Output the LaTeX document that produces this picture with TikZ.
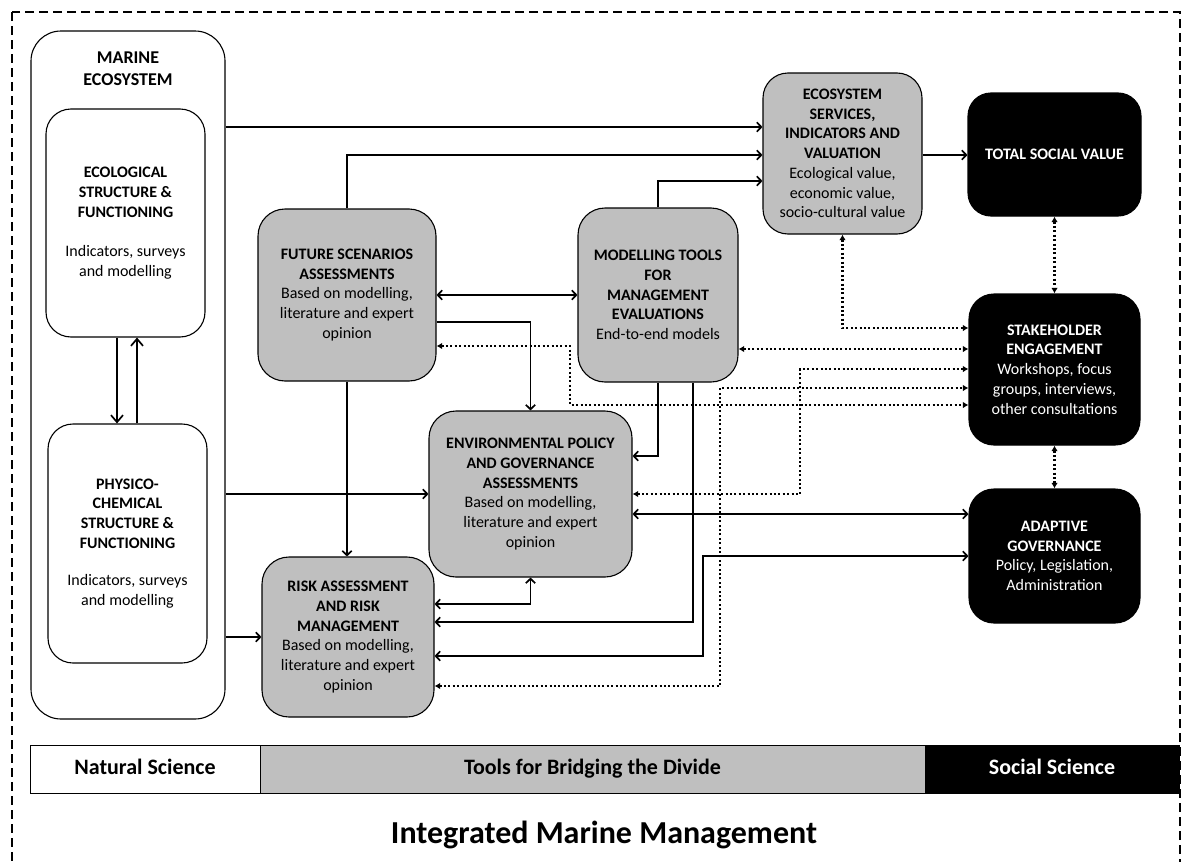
\documentclass[tikz,border=0pt]{standalone}
\usepackage{fontspec}
\setmainfont{Carlito}
\usetikzlibrary{arrows.meta,calc}
\definecolor{boxgray}{RGB}{191,191,191}
\begin{document}
\begin{tikzpicture}[x=1pt,y=-1pt,
  basebox/.style={draw=black, line width=1.1pt, rounded corners=27pt, align=center, inner sep=0pt, font=\fontsize{16}{19.7}\selectfont},
  whitebox/.style={basebox, fill=white},
  graybox/.style={basebox, fill=boxgray},
  blackbox/.style={basebox, fill=black, text=white},
  solidarrow/.style={line width=1.7pt, -{Straight Barb[length=4.5pt,width=9.5pt]}},
  solidboth/.style={line width=1.7pt, {Straight Barb[length=4.5pt,width=9.5pt]}-{Straight Barb[length=4.5pt,width=9.5pt]}},
  bigarrow/.style={line width=1.7pt, -{Straight Barb[length=7pt,width=12pt]}},
  dotboth/.style={line width=2.1pt, dash pattern=on 2pt off 2.4pt, {Latex[length=5.5pt,width=6.5pt]}-{Latex[length=5.5pt,width=6.5pt]}},
  barcell/.style={draw=black, line width=1pt, inner sep=0pt, minimum height=48pt, text height=15pt, text depth=5pt, font=\fontsize{22}{26}\selectfont\bfseries}
]
\useasboundingbox (0,0) rectangle (1192,862);
\draw[line width=1.1pt, dash pattern=on 9pt off 5pt] (12,12) rectangle (1180,885);

% natural science side
\node[whitebox, rounded corners=30pt, minimum width=194pt, minimum height=688pt] (marine) at (128,375) {};
\node[font=\fontsize{18}{22}\selectfont\bfseries, align=center] (marinelbl) at (128,69) {MARINE\\ECOSYSTEM};
\node[whitebox, rounded corners=25pt, minimum width=159pt, minimum height=228pt] (eco) at (125.5,223)
  {\textbf{ECOLOGICAL}\\\textbf{STRUCTURE \&}\\\textbf{FUNCTIONING}\\[19.7pt]Indicators, surveys\\and modelling};
\node[whitebox, rounded corners=25pt, minimum width=159pt, minimum height=239pt] (phys) at (127.5,543.5)
  {\textbf{PHYSICO-}\\\textbf{CHEMICAL}\\\textbf{STRUCTURE \&}\\\textbf{FUNCTIONING}\\[18pt]Indicators, surveys\\and modelling};

% bridging tools
\node[graybox, minimum width=178pt, minimum height=172pt] (fut) at (347,295)
  {\textbf{FUTURE SCENARIOS}\\\textbf{ASSESSMENTS}\\Based on modelling,\\literature and expert\\opinion};
\node[graybox, minimum width=160pt, minimum height=174pt] (mod) at (658,295)
  {\textbf{MODELLING TOOLS}\\\textbf{FOR}\\\textbf{MANAGEMENT}\\\textbf{EVALUATIONS}\\End-to-end models};
\node[graybox, rounded corners=25pt, minimum width=159pt, minimum height=161pt] (es) at (842.5,153.5)
  {\textbf{ECOSYSTEM}\\\textbf{SERVICES,}\\\textbf{INDICATORS AND}\\\textbf{VALUATION}\\Ecological value,\\economic value,\\socio-cultural value};
\node[graybox, minimum width=203pt, minimum height=166pt] (env) at (530.5,494)
  {\textbf{ENVIRONMENTAL POLICY}\\\textbf{AND GOVERNANCE}\\\textbf{ASSESSMENTS}\\Based on modelling,\\literature and expert\\opinion};
\node[graybox, minimum width=172pt, minimum height=160pt] (risk) at (348,637)
  {\textbf{RISK ASSESSMENT}\\\textbf{AND RISK}\\\textbf{MANAGEMENT}\\Based on modelling,\\literature and expert\\opinion};

% social science side
\node[blackbox, rounded corners=23pt, minimum width=173pt, minimum height=123pt] (tsv) at (1054.5,154.5)
  {\textbf{TOTAL SOCIAL VALUE}};
\node[blackbox, rounded corners=25pt, minimum width=171pt, minimum height=151pt] (sh) at (1054.5,369.5)
  {\textbf{STAKEHOLDER}\\\textbf{ENGAGEMENT}\\Workshops, focus\\groups, interviews,\\other consultations};
\node[blackbox, rounded corners=25pt, minimum width=171pt, minimum height=134pt] (ad) at (1054.5,556)
  {\textbf{ADAPTIVE}\\\textbf{GOVERNANCE}\\Policy, Legislation,\\Administration};

% solid connectors
\draw[solidarrow] (marine.east |- 0,127) -- (es.west |- 0,127);
\draw[solidarrow] (fut.north) |- (es.west |- 0,155);
\draw[solidarrow] (mod.north) |- (es.west |- 0,181);
\draw[solidarrow] (es.east |- 0,155) -- (tsv.west |- 0,155);
\draw[solidboth] (fut.east) -- (mod.west);
\draw[solidarrow] (fut.east |- 0,322) -| (env.north);
\draw[solidarrow] (fut.south) -- (fut.south |- risk.north);
\draw[solidarrow] (mod.south) |- (env.east |- 0,456);
\draw[solidarrow] (mod.south -| 693,0) |- (risk.east |- 0,622);
\draw[solidarrow] (marine.east |- env.west) -- (env.west);
\draw[solidarrow] (marine.east |- risk.west) -- (risk.west);
\draw[solidboth] (env.east |- 0,514) -- (ad.west |- 0,514);
\draw[solidboth] (risk.east |- 0,604) -| (env.south);
\coordinate (bendad) at (703,556);
\draw[solidboth] (risk.east |- 0,656) -| (bendad) -- (ad.west);
\draw[bigarrow] (eco.south -| 117,0) -- (phys.north -| 117,0);
\draw[bigarrow] (phys.north -| 137,0) -- (eco.south -| 137,0);

% dotted connectors
\draw[dotboth] (es.south) |- (sh.west |- 0,328);
\draw[dotboth] (mod.east |- 0,349) -- (sh.west |- 0,349);
\draw[dotboth] (env.east) -| (800,369) -- (sh.west |- 0,369);
\draw[dotboth] (risk.east |- 0,686) -| (720,388) -- (sh.west |- 0,388);
\draw[dotboth] (fut.east |- 0,346) -| (570,405) -- (sh.west |- 0,405);
\draw[dotboth] (tsv.south) -- (sh.north);
\draw[dotboth] (sh.south) -- (ad.north);

% bottom bar
\node[barcell, fill=white, minimum width=230pt] (nat) at (145,769) {Natural Science};
\node[barcell, fill=boxgray, minimum width=665pt] (tools) at (592.5,769) {Tools for Bridging the Divide};
\node[barcell, fill=black, text=white, minimum width=254pt] (soc) at (1052,769) {Social Science};
\node[font=\fontsize{32}{38}\selectfont\bfseries, anchor=base] (title) at (604,843) {Integrated Marine Management};
\end{tikzpicture}
\end{document}
